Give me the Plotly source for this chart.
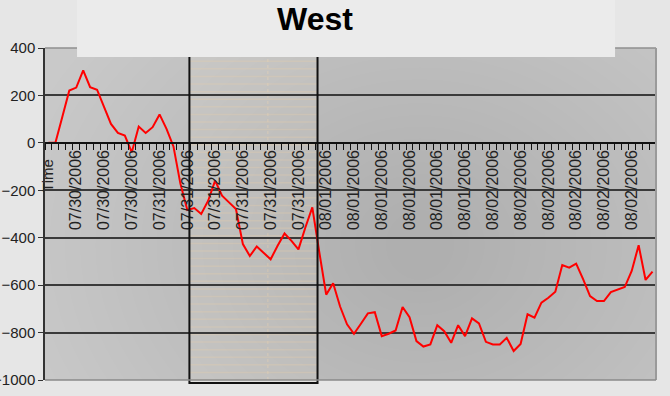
import plotly.graph_objects as go

# Hourly readings, 07/30/2006 through 08/02/2006
values = [
    0, 0, 110, 221, 233, 306, 235, 224, 152, 80,
    42, 31, -40, 69, 42, 66, 120, 59, -15, -172,
    -283, -275, -300, -244, -159, -223, -251, -279, -427, -477,
    -437, -463, -491, -434, -382, -413, -449, -357, -272, -460,
    -640, -592, -690, -765, -805, -763, -719, -714, -815, -805,
    -791, -692, -735, -836, -859, -850, -769, -794, -843, -769,
    -815, -740, -761, -839, -850, -850, -822, -878, -848, -723,
    -737, -674, -653, -628, -515, -526, -509, -575, -646, -667,
    -667, -629, -618, -608, -540, -432, -578, -543,
]
positions = list(range(len(values)))

# Category labels shown every fourth hour
label_positions = list(range(4, 85, 4))
date_labels = (["07/30/2006"] * 3 + ["07/31/2006"] * 6
               + ["08/01/2006"] * 6 + ["08/02/2006"] * 6)

y_ticks = [-1000, -800, -600, -400, -200, 0, 200, 400]
y_range = [-1000, 400]
x_range = [-0.5, len(values) - 0.5]

# Highlighted window (in category units)
window = [20.3, 38.75]

fig = go.Figure()
fig.add_trace(go.Scatter(
    x=positions, y=values, mode="lines",
    line=dict(color="#ff0000", width=2),
    hoverinfo="skip", showlegend=False,
))

shapes = []

# Soft radial shading of the plot area
cx, cy = 53.5, -430
layers = 26
for k in range(layers):
    rx = 60 - k * 2.2
    ry = 1400 - k * 50
    shapes.append(dict(type="circle", xref="x", yref="y", layer="below",
                       x0=cx - rx, x1=cx + rx, y0=cy - ry, y1=cy + ry,
                       fillcolor="rgba(0,0,0,0.0055)", line=dict(width=0)))

# Highlighted window: light fill with faint beige stripes
shapes.append(dict(type="rect", xref="x", yref="paper", layer="below",
                   x0=window[0], x1=window[1], y0=-0.009, y1=1.1,
                   fillcolor="rgba(222,218,212,0.32)", line=dict(width=0)))
stripe = -1000
while stripe < 400:
    shapes.append(dict(type="line", xref="x", yref="y", layer="below",
                       x0=window[0], x1=window[1], y0=stripe, y1=stripe,
                       line=dict(color="rgba(232,205,170,0.3)", width=1.5)))
    stripe += 32
shapes.append(dict(type="line", xref="x", yref="paper", layer="below",
                   x0=31.6, x1=31.6, y0=0, y1=1,
                   line=dict(color="rgba(245,225,195,0.55)", width=1, dash="dot")))
shapes.append(dict(type="rect", xref="x", yref="paper", layer="above",
                   x0=window[0], x1=window[1], y0=-0.009, y1=1.1,
                   fillcolor="rgba(0,0,0,0)", line=dict(color="#111111", width=2)))

# Plot-area border (top, right, bottom)
shapes.append(dict(type="line", xref="paper", yref="paper", layer="above",
                   x0=0, x1=1, y0=1, y1=1, line=dict(color="#8f8f8f", width=1.5)))
shapes.append(dict(type="line", xref="paper", yref="paper", layer="above",
                   x0=1, x1=1, y0=0, y1=1, line=dict(color="#9a9a9a", width=2)))
shapes.append(dict(type="line", xref="paper", yref="paper", layer="above",
                   x0=0, x1=1, y0=0, y1=0, line=dict(color="#8a8a8a", width=1.5)))

# Title panel
shapes.append(dict(type="rect", xref="paper", yref="paper", layer="above",
                   x0=0.0524, x1=0.933, y0=0.973, y1=1.2,
                   fillcolor="#ebebeb", line=dict(width=0)))

fig.update_layout(
    width=670, height=396,
    margin=dict(l=45, r=14, t=48, b=16, autoexpand=False),
    paper_bgcolor="#e6e6e6",
    plot_bgcolor="#c9c9c9",
    font=dict(family="Liberation Sans, Arial, sans-serif", color="#222222"),
    shapes=shapes,
    annotations=[
        dict(text="<b>West</b>", xref="paper", yref="paper",
             x=0.442, y=1.086, showarrow=False,
             font=dict(size=32, color="#000000"),
             xanchor="center", yanchor="middle"),
        dict(text="Time", xref="paper", yref="paper",
             x=0.005, y=0.615, showarrow=False, textangle=-90,
             font=dict(size=15, color="#222222"),
             xanchor="center", yanchor="middle"),
    ],
    xaxis=dict(
        range=x_range, anchor="free", automargin=False,
        position=(0 - y_range[0]) / (y_range[1] - y_range[0]),
        tickmode="array", tickvals=label_positions, ticktext=date_labels,
        tickangle=-90, ticks="", tickfont=dict(size=16, color="#222222"),
        showgrid=False, zeroline=False,
        showline=True, linecolor="#111111", linewidth=1.5,
        minor=dict(tick0=-0.5, dtick=1, ticks="outside", ticklen=6,
                   tickcolor="#111111", tickwidth=1, showgrid=False),
    ),
    yaxis=dict(
        range=y_range, tickmode="array", tickvals=y_ticks, automargin=False,
        ticks="outside", ticklen=5, tickcolor="#333333",
        tickfont=dict(size=15, color="#222222"),
        showgrid=True, gridcolor="#3a3a3a", gridwidth=1.5,
        zeroline=False, showline=True, linecolor="#333333", linewidth=1.5,
    ),
)

fig.write_html("out.html")
